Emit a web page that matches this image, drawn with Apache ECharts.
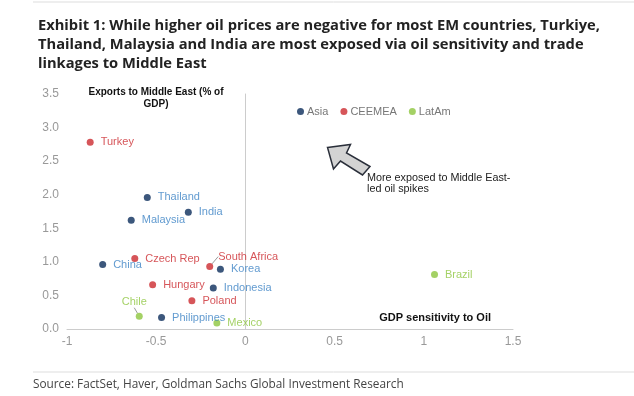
<!DOCTYPE html>
<html><head><meta charset="utf-8">
<script src="https://cdn.jsdelivr.net/npm/echarts@6/dist/echarts.min.js"></script>
<style>html,body{margin:0;padding:0;background:#fff}#c{width:634px;height:396px}</style>
</head><body><div id="c"></div>
<script>
// Data
const asiaNames = ['China','Thailand','Malaysia','India','Korea','Indonesia','Philippines'];
const asiaX =     [-0.80, -0.55, -0.64, -0.32, -0.14, -0.18, -0.47];
const asiaY =     [0.96, 1.96, 1.62, 1.74, 0.89, 0.61, 0.17];
const ceemeaNames = ['Turkey','Czech Rep','South Africa','Hungary','Poland'];
const ceemeaX =     [-0.87, -0.62, -0.20, -0.52, -0.30];
const ceemeaY =     [2.78, 1.05, 0.93, 0.66, 0.42];
const latamNames = ['Chile','Mexico','Brazil'];
const latamX =     [-0.595, -0.16, 1.06];
const latamY =     [0.19, 0.09, 0.81];
const xTicks = [-1, -0.5, 0, 0.5, 1, 1.5];
const yTicks = [0, 0.5, 1, 1.5, 2, 2.5, 3, 3.5];

const chart = echarts.init(document.getElementById('c'), null, {renderer:'canvas'});
const leaderNames = ['South Africa', 'Chile'];
function pts(n, xs, ys){
  return n.map((name,i)=>{
    const d = {name:name, value:[xs[i], ys[i]]};
    if (leaderNames.indexOf(name) >= 0) d.labelLine = {show: true};
    return d;
  });
}

function mkSeries(name, names, xs, ys, dotColor, labelColor){
  return {
    name: name, type: 'scatter', symbol: 'circle', symbolSize: 7,
    itemStyle: {color: dotColor},
    data: pts(names, xs, ys),
    label: {show: true, position: 'right', distance: 7, formatter: '{b}', color: labelColor,
            fontFamily: 'Liberation Sans, Arial', fontSize: 11},
    labelLine: {show: false, lineStyle: {color: '#999', width: 1}, length2: 0},
    labelLayout: function(p){
      if (p.text === 'South Africa') return {dx: -2, dy: -10};
      if (p.text === 'Chile') return {x: p.rect.x + p.rect.width/2 - 5, y: p.rect.y + p.rect.height/2 - 14,
        align: 'center', verticalAlign: 'middle'};
      return {};
    },
    emphasis: {disabled: true}
  };
}

chart.setOption({
  backgroundColor: '#ffffff',
  animation: false,
  title: {
    text: 'Exhibit 1: While higher oil prices are negative for most EM countries, Turkiye,\nThailand, Malaysia and India are most exposed via oil sensitivity and trade\nlinkages to Middle East',
    left: 33, top: 11,
    textStyle: {fontFamily: 'Open Sans', fontWeight: 'bold', fontSize: 14.7, lineHeight: 19, color: '#222'}
  },
  legend: {
    data: ['Asia','CEEMEA','LatAm'], left: 292, top: 101, icon: 'circle',
    itemWidth: 7, itemHeight: 7, itemGap: 12,
    textStyle: {color: '#777', fontFamily: 'Liberation Sans, Arial', fontSize: 11, padding: [0,0,0,-2]}
  },
  grid: {left: 67, right: 121, top: 94, bottom: 67, containLabel: false},
  xAxis: {
    type: 'value', min: -1, max: 1.5, interval: 0.5,
    name: 'GDP sensitivity to Oil', nameLocation: 'end',
    nameGap: 0,
    nameTextStyle: {fontFamily: 'Liberation Sans, Arial', fontWeight: 'bold', fontSize: 11, color: '#111',
      align: 'right', verticalAlign: 'bottom', padding: [0, 22, 6, 0]},
    axisLine: {show: true, onZero: true, lineStyle: {color: '#ccc'}},
    axisTick: {show: false},
    splitLine: {show: false},
    axisLabel: {color: '#999', fontFamily: 'Liberation Sans, Arial', fontSize: 12, margin: 7,
      formatter: v => String(v)}
  },
  yAxis: {
    type: 'value', min: 0, max: 3.5, interval: 0.5,
    axisLine: {show: true, onZero: true, lineStyle: {color: '#ccc'}},
    axisTick: {show: false},
    splitLine: {show: false},
    axisLabel: {color: '#999', fontFamily: 'Liberation Sans, Arial', fontSize: 12, margin: 8,
      formatter: v => v.toFixed(1)}
  },
  graphic: [
    {type: 'line', shape: {x1: 33, y1: 2, x2: 634, y2: 2}, style: {stroke: '#ddd', lineWidth: 1}},
    {type: 'line', shape: {x1: 33, y1: 372, x2: 634, y2: 372}, style: {stroke: '#ddd', lineWidth: 1}},
    {type: 'text', left: 33, top: 379, style: {text: 'Source: FactSet, Haver, Goldman Sachs Global Investment Research',
      font: '11.8px "Open Sans"', fill: '#444'}},
    {type: 'text', x: 156, y: 86, style: {text: 'Exports to Middle East (% of\nGDP)', align: 'center',
      font: 'bold 10px "Liberation Sans", Arial', fill: '#111', lineHeight: 12}},
    {type: 'text', x: 367, y: 172, style: {text: 'More exposed to Middle East-\nled oil spikes',
      font: '10.8px "Liberation Sans", Arial', fill: '#222', lineHeight: 11.5}},
    {type: 'polygon', shape: {points: [[327.5,147.5],[350.5,144.5],[346.5,153],[370,166.5],[362.5,175],[340.5,161],[333.5,169]]},
      style: {fill: '#d3d3d3', stroke: '#2a2f3a', lineWidth: 1.5}}
  ],
  series: [
    mkSeries('Asia', asiaNames, asiaX, asiaY, '#0b2d5b', '#3b82c4'),
    mkSeries('CEEMEA', ceemeaNames, ceemeaX, ceemeaY, '#cc2a2f', '#cc2a2f'),
    mkSeries('LatAm', latamNames, latamX, latamY, '#8dc63f', '#8dc63f')
  ]
});
</script></body></html>
